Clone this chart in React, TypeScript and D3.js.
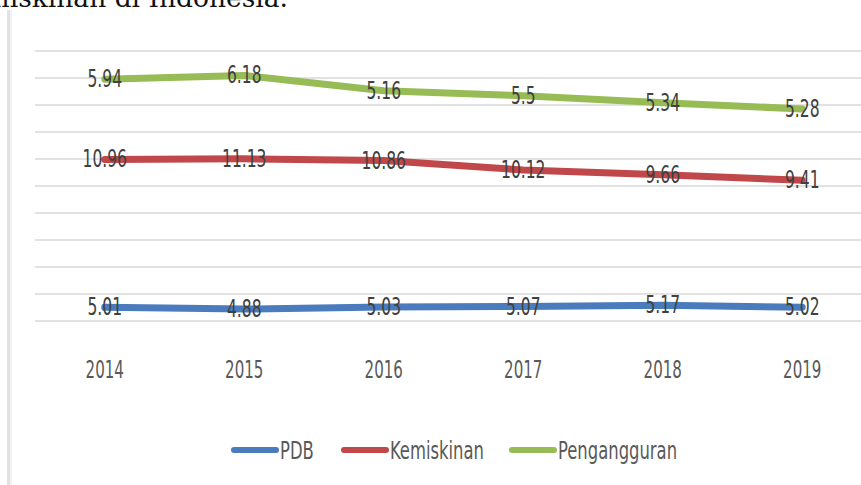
import React from "react";
import * as d3 from "d3";

const years = ["2014", "2015", "2016", "2017", "2018", "2019"];
const pdb = [5.01, 4.88, 5.03, 5.07, 5.17, 5.02];
const kemiskinan = [10.96, 11.13, 10.86, 10.12, 9.66, 9.41];
const pengangguran = [5.94, 6.18, 5.16, 5.5, 5.34, 5.28];
const seriesNames = ["PDB", "Kemiskinan", "Pengangguran"];
const seriesColors = ["#4a7bbd", "#c0474a", "#97bb55"];
const yTicks = [4, 6, 8, 10, 12, 14, 16, 18, 20, 22, 24];

const W = 861;
const H = 485;
const LABEL_FONT = "'DejaVu Sans Condensed', 'DejaVu Sans', sans-serif";

export default function App() {
  const rows = years.map((y, i) => ({
    year: y,
    PDB: pdb[i],
    Kemiskinan: kemiskinan[i],
    Pengangguran: pengangguran[i],
  }));
  const stacked = d3.stack<any>().keys(seriesNames)(rows);

  const x = d3.scaleBand<string>().domain(years).range([35, 872]).padding(0);
  const cx = (y: string) => (x(y) as number) + x.bandwidth() / 2;
  const yScale = d3.scaleLinear().domain([4, 24]).range([321, 51]);

  const line = d3
    .line<any>()
    .x((d) => cx(d.data.year))
    .y((d) => yScale(d[1]));

  const legendX = [232, 342, 510];
  const legendY = 450;

  return (
    <svg
      width={W}
      height={H}
      style={{ position: "absolute", left: 0, top: 0, background: "#fff" }}
    >
      <rect x={0} y={0} width={W} height={H} fill="#fff" />
      {/* cut-off caption above the chart */}
      <text
        x={288}
        y={7}
        textAnchor="end"
        fontFamily="'DejaVu Serif', serif"
        fontSize={26.5}
        fill="#111"
      >
        kemiskinan di Indonesia.
      </text>
      {/* chart frame edge */}
      <rect x={7} y={10} width={3} height={H - 10} fill="#e2e2e2" />
      <rect x={10} y={10} width={2} height={H - 10} fill="#f2f2f2" />

      {/* gridlines */}
      {yTicks.map((t) => (
        <line
          key={t}
          x1={35}
          x2={W}
          y1={yScale(t)}
          y2={yScale(t)}
          stroke="#d9d9d9"
          strokeWidth={1.5}
        />
      ))}

      {/* lines */}
      {stacked.map((s, i) => (
        <path
          key={s.key}
          d={line(s as any) || ""}
          fill="none"
          stroke={seriesColors[i]}
          strokeWidth={7}
          strokeLinecap="round"
          strokeLinejoin="round"
        />
      ))}

      {/* data labels */}
      {stacked.map((s, i) =>
        s.map((d: any, j: number) => {
          const raw = [pdb, kemiskinan, pengangguran][i][j];
          return (
            <text
              key={s.key + j}
              transform={`translate(${cx(d.data.year)},${yScale(d[1])}) scale(0.72,1)`}
              textAnchor="middle"
              dominantBaseline="central"
              fontFamily={LABEL_FONT}
              fontSize={24}
              fill="#404040"
            >
              {String(raw)}
            </text>
          );
        })
      )}

      {/* x axis labels */}
      {years.map((y) => (
        <text
          key={y}
          transform={`translate(${cx(y)},${369}) scale(0.67,1)`}
          textAnchor="middle"
          dominantBaseline="central"
          fontFamily={LABEL_FONT}
          fontSize={25}
          fill="#595959"
        >
          {y}
        </text>
      ))}

      {/* legend */}
      {seriesNames.map((n, i) => (
        <g key={n} transform={`translate(${legendX[i]},${legendY})`}>
          <line
            x1={2}
            x2={44}
            y1={0}
            y2={0}
            stroke={seriesColors[i]}
            strokeWidth={6}
            strokeLinecap="round"
          />
          <text
            transform={`translate(48,0) scale(0.73,1)`}
            dominantBaseline="central"
            fontFamily={LABEL_FONT}
            fontSize={25}
            fill="#595959"
          >
            {n}
          </text>
        </g>
      ))}
    </svg>
  );
}
